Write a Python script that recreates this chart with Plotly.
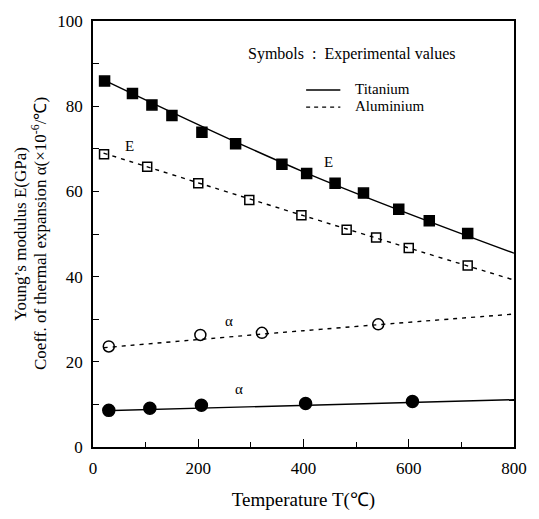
import plotly.graph_objects as go

# Experimental values
ti_E_T = [22, 75, 112, 150, 207, 271, 359, 406, 460, 514, 581, 639, 712]
ti_E = [85.9, 83.0, 80.3, 77.8, 73.9, 71.2, 66.4, 64.2, 61.9, 59.6, 55.8, 53.1, 50.1]

al_E_T = [21, 103, 200, 297, 396, 482, 538, 600, 712]
al_E = [68.7, 65.8, 61.9, 58.0, 54.4, 51.0, 49.2, 46.7, 42.6]

al_a_T = [30, 204, 321, 542]
al_a = [23.6, 26.3, 26.8, 28.8]

ti_a_T = [30, 108, 206, 404, 607]
ti_a = [8.6, 9.1, 9.8, 10.2, 10.7]

# Fitted curves
ti_E_fit_T = [20, 400, 800]
ti_E_fit = [86.2, 64.6, 45.5]
al_E_fit_T = [20, 400, 800]
al_E_fit = [69.0, 54.3, 39.2]
al_a_fit_T = [20, 400, 800]
al_a_fit = [23.3, 27.3, 31.2]
ti_a_fit_T = [20, 800]
ti_a_fit = [8.5, 11.1]

FONT = "Liberation Serif, Times New Roman, serif"
fig = go.Figure()

def line(x, y, dash):
    fig.add_trace(go.Scatter(x=x, y=y, mode="lines", line=dict(color="black", width=1.4, dash=dash, shape="spline"),
                             showlegend=False, hoverinfo="skip"))

def pts(x, y, symbol, size):
    fig.add_trace(go.Scatter(x=x, y=y, mode="markers",
                             marker=dict(symbol=symbol, size=size, color="black",
                                         line=dict(color="black", width=1.5)),
                             showlegend=False))

line(ti_E_fit_T, ti_E_fit, "solid")
line(al_E_fit_T, al_E_fit, "4px,5px")
line(al_a_fit_T, al_a_fit, "4px,5px")
line(ti_a_fit_T, ti_a_fit, "solid")

pts(ti_E_T, ti_E, "square", 10)
pts(al_E_T, al_E, "square-open", 9)
pts(al_a_T, al_a, "circle-open", 11)
pts(ti_a_T, ti_a, "circle", 12)

# Legend drawn as lines
fig.add_trace(go.Scatter(x=[405, 470], y=[83.8, 83.8], mode="lines", line=dict(color="black", width=1.4),
                         showlegend=False, hoverinfo="skip"))
fig.add_trace(go.Scatter(x=[405, 470], y=[79.8, 79.8], mode="lines", line=dict(color="black", width=1.2, dash="4px,4px"),
                         showlegend=False, hoverinfo="skip"))

ann = [
    dict(x=290, y=92.3, text="Symbols  :  Experimental values", xanchor="left", size=16),
    dict(x=495, y=84.0, text="Titanium", xanchor="left", size=15),
    dict(x=495, y=80.0, text="Aluminium", xanchor="left", size=15),
    dict(x=70, y=70.7, text="E", xanchor="center", size=15),
    dict(x=448, y=67, text="E", xanchor="center", size=15),
    dict(x=258, y=29.5, text="α", xanchor="center", size=15),
    dict(x=278, y=13.5, text="α", xanchor="center", size=15),
]
annotations = [dict(x=a["x"], y=a["y"], text=a["text"], xanchor=a["xanchor"], xref="x", yref="y",
                    showarrow=False, yanchor="middle",
                    font=dict(family=FONT, size=a["size"], color="black")) for a in ann]
for txt, shift in [("Young’s modulus E(GPa)", -73),
                   ("Coeff. of thermal expansion α(×10<sup>-6</sup>/℃)", -54)]:
    annotations.append(dict(x=0, y=0.5, xref="paper", yref="paper", xshift=shift, showarrow=False,
                            textangle=-90, xanchor="center", yanchor="middle", text=txt,
                            font=dict(family=FONT, size=17, color="black")))

fig.update_layout(
    width=539, height=519,
    margin=dict(l=93, r=18, t=14, b=64),
    paper_bgcolor="white", plot_bgcolor="white",
    annotations=annotations,
    font=dict(family=FONT, size=17, color="black"),
)
fig.update_xaxes(range=[0, 800], tickvals=[0, 200, 400, 600, 800], ticks="inside", ticklen=8,
                 tickcolor="black", showline=True, linecolor="black", linewidth=1.5, mirror=True,
                 showgrid=False, zeroline=False, ticklabelstandoff=5,
                 minor=dict(tickvals=[100, 300, 500, 700], ticks="inside", ticklen=5, tickcolor="black"),
                 title=dict(text="Temperature T(℃)", font=dict(family=FONT, size=19), standoff=16),
                 tickfont=dict(family=FONT, size=17))
fig.update_yaxes(range=[0, 100], tickvals=[0, 20, 40, 60, 80, 100], ticks="inside", ticklen=6,
                 tickcolor="black", showline=True, linecolor="black", linewidth=1.5, mirror=True,
                 showgrid=False, zeroline=False, ticklabelstandoff=5,
                 minor=dict(tickvals=[10, 30, 50, 70, 90], ticks="inside", ticklen=6, tickcolor="black"),
                 tickfont=dict(family=FONT, size=17))

fig.write_html("out.html")
